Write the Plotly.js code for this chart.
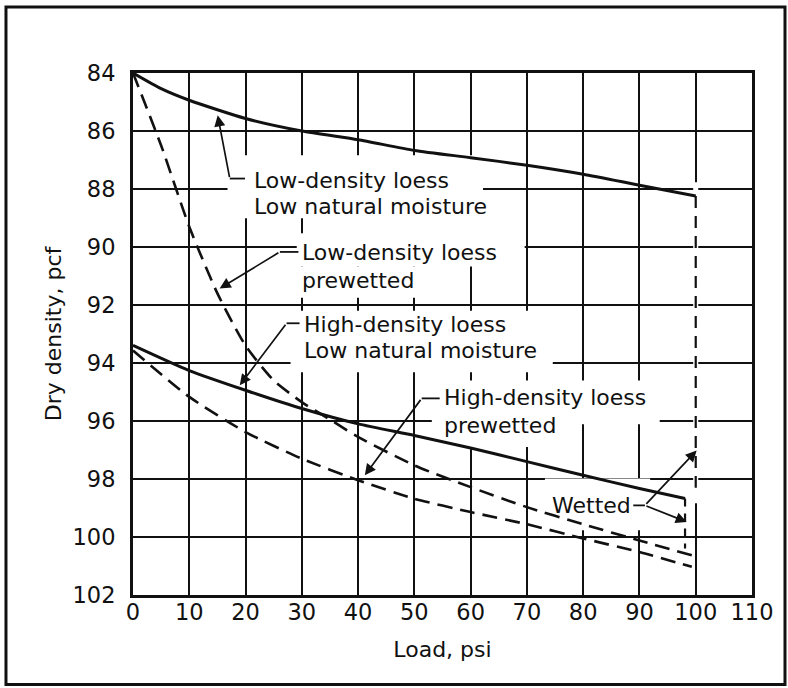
<!DOCTYPE html>
<html><head><meta charset="utf-8">
<script src="https://cdn.plot.ly/plotly-3.0.1.min.js"></script>
<style>html,body{margin:0;padding:0;background:#fff}#chart{width:788px;height:688px}</style>
</head><body><div id="chart"></div><script>
// ---- data ----
const xTicks = [0,10,20,30,40,50,60,70,80,90,100,110];
const yTicks = [84,86,88,90,92,94,96,98,100,102];

const lowNatLoad    = [0,5,10,20,30,40,50,60,70,80,90,100];
const lowNatDensity = [84,84.54,84.94,85.57,86.0,86.3,86.67,86.92,87.18,87.49,87.87,88.24];

const lowWetLoad    = [0,5,10,15,20,25,30,35,40,50,60,70,80,90,99.3];
const lowWetDensity = [84,86.5,89.3,91.6,93.4,94.6,95.35,95.95,96.55,97.53,98.28,98.97,99.56,100.12,100.63];

const highNatLoad    = [0,10,20,30,40,50,60,70,80,90,98.1];
const highNatDensity = [93.39,94.26,94.94,95.57,96.1,96.5,96.93,97.4,97.87,98.33,98.67];

const highWetLoad    = [0,10,20,30,40,50,60,70,80,90,99.3];
const highWetDensity = [93.57,95.17,96.38,97.3,98.04,98.68,99.14,99.56,100.05,100.52,101.03];

const lowWettedLoad    = [100,100];
const lowWettedDensity = [88.24,98.3];
const highWettedLoad    = [98.1,98.1];
const highWettedDensity = [98.67,100.4];

const labelText = ["Low-density loess","Low natural moisture","Low-density loess","prewetted",
                   "High-density loess","Low natural moisture","High-density loess","prewetted","Wetted"];
const xTitle = "Load, psi";
const yTitle = "Dry density, pcf";

// ---- layout helpers ----
const FONT = "DejaVu Sans, sans-serif";
const INK = "#111";
const labelPos = [[21.3,87.72],[21.3,88.6],[29.9,90.2],[29.9,91.15],
                  [30.2,92.68],[30.2,93.58],[55.1,95.2],[55.1,96.15],[74.3,98.91]];
const arrows = [ // [tailX, tailY, headX, headY]
  [17.2,87.64,15.05,85.46],
  [26.1,90.17,15.4,91.43],
  [27.3,92.63,18.97,94.77],
  [51.3,95.22,41.2,97.87],
  [90.97,98.91,100.16,97.02],
  [90.97,98.91,98.4,99.48]
];
const connectors = [ // [x0,x1,y]
  [17.2,19.9,87.64],[26.1,29.4,90.17],[27.3,29.6,92.63],[51.3,54.5,95.22],[88.9,90.97,98.91]
];
const whiteBoxes = [ // [x0,x1,y0,y1] cleared grid behind labels
  [16.8,62.2,86.84,89.01],[33.2,69.6,88.94,89.6],[29.1,69.6,89.53,90.67],[29.1,54.5,90.67,91.75],
  [28.0,74.6,92.2,94.32],[53.1,93.6,94.6,96.11],[53.1,78.5,96.11,96.9],[73.2,91.9,97.98,99.77],
  [99.55,100.45,87.77,98.84]
];

const solid = {color: INK, width: 3};
const dashed = {color: INK, width: 2.6, dash: "15px,8px"};
const traces = [
  {x: lowNatLoad, y: lowNatDensity, line: Object.assign({shape:"spline", smoothing:0.6}, solid)},
  {x: lowWetLoad, y: lowWetDensity, line: Object.assign({shape:"spline", smoothing:0.6}, dashed)},
  {x: highNatLoad, y: highNatDensity, line: Object.assign({shape:"spline", smoothing:0.6}, solid)},
  {x: highWetLoad, y: highWetDensity, line: Object.assign({shape:"spline", smoothing:0.6}, dashed)},
  {x: lowWettedLoad, y: lowWettedDensity, line: {color: INK, width: 2.2, dash: "12px,8px"}},
  {x: highWettedLoad, y: highWettedDensity, line: {color: INK, width: 2.2, dash: "8px,7px"}}
].map(t => Object.assign({type: "scatter", mode: "lines", hoverinfo: "skip", showlegend: false}, t));

const shapes = [];
whiteBoxes.forEach(b => shapes.push({type:"rect", xref:"x", yref:"y", x0:b[0], x1:b[1], y0:b[2], y1:b[3],
  fillcolor:"#ffffff", line:{width:0}, layer:"between"}));
connectors.forEach(c => shapes.push({type:"line", xref:"x", yref:"y", x0:c[0], x1:c[1], y0:c[2], y1:c[2],
  line:{color:INK, width:1.8}}));
// outer frame of the figure
shapes.push({type:"rect", xref:"paper", yref:"paper", x0:-0.2052, x1:1.0533, y0:-0.1715, y1:1.1265,
  line:{color:INK, width:3}, fillcolor:"rgba(0,0,0,0)"});

const annotations = [];
labelText.forEach((t,i) => annotations.push({text:t, x:labelPos[i][0], y:labelPos[i][1], xref:"x", yref:"y",
  xanchor:"left", yanchor:"middle", showarrow:false, borderpad:0, font:{family:FONT, size:22, color:INK}}));
arrows.forEach(a => annotations.push({text:"", x:a[2], y:a[3], ax:a[0], ay:a[1], xref:"x", yref:"y",
  axref:"x", ayref:"y", showarrow:true, arrowhead:2, arrowsize:1.3, arrowwidth:1.7, arrowcolor:INK,
  standoff:0, startstandoff:0, font:{size:1}}));

const axisCommon = {showline:true, mirror:true, linecolor:INK, linewidth:3, showgrid:true, gridcolor:INK,
  gridwidth:2, zeroline:false, ticks:"", tickfont:{family:FONT, size:22.5, color:INK}, fixedrange:true};

const layout = {
  width: 788, height: 688,
  margin: {l:133, r:36, t:73, b:93},
  paper_bgcolor: "#ffffff", plot_bgcolor: "#ffffff",
  font: {family: FONT, color: INK},
  xaxis: Object.assign({}, axisCommon, {range:[0,110], tickvals:xTicks, ticktext:xTicks.map(String),
    ticklabelstandoff: -5, automargin:false,
    title:{text:xTitle, font:{family:FONT, size:22, color:INK}, standoff:18}}),
  yaxis: Object.assign({}, axisCommon, {range:[102,84], tickvals:yTicks, ticktext:yTicks.map(String),
    ticklabelstandoff: 10, automargin:false,
    title:{text:yTitle, font:{family:FONT, size:22, color:INK}, standoff:5}}),
  shapes: shapes,
  annotations: annotations
};

Plotly.newPlot("chart", traces, layout, {displayModeBar:false, staticPlot:true});
</script></body></html>
